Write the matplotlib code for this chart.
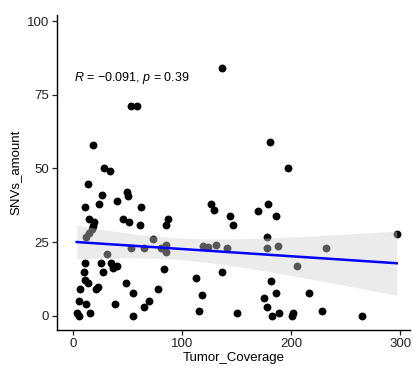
import numpy as np
import matplotlib
matplotlib.use("Agg")
import matplotlib.pyplot as plt

plt.rcParams["font.family"] = ["Liberation Sans", "DejaVu Sans"]
plt.rcParams["mathtext.fontset"] = "custom"
plt.rcParams["mathtext.it"] = "Liberation Sans:italic"
plt.rcParams["mathtext.rm"] = "Liberation Sans"

# values
tumor_coverage = [
    53.2, 58.7, 136.7, 18, 28, 34, 13.8, 27, 49.5, 50, 24, 40, 11.3, 62.7,
    15, 19.3, 18.6, 45.6, 51, 61.5, 86.9, 85.3, 127, 129, 144, 146.5,
    180.4, 197, 170, 178.6, 186, 177.7,
    12.1, 14.7, 17.5, 31.5, 53.6, 65.4, 73.3, 80.7, 85, 85, 119, 124, 131,
    141, 177.7, 188.4, 205.8, 232, 297,
    10.7, 10.4, 11.3, 14, 6.4, 5.5, 12.2, 3.4, 5.8, 15.6, 25.7, 27.8, 21.4,
    23.2, 35, 37, 40.6, 38.5, 49, 54.7, 55.3, 65, 69.4, 77.7, 83.8, 113,
    137, 118, 116, 150.7, 181.7, 186, 175, 178.3, 182.3, 189, 200.6, 202,
    216.8, 228.7, 264.8,
]
snvs_amount = [
    71.2, 71.2, 84, 58, 50, 49, 44.8, 41, 42, 40.7, 37.9, 39, 36.8, 36.8,
    32.8, 32, 30.5, 33, 31.7, 30.8, 33, 30.7, 37.9, 35.9, 33.9, 30.7,
    59, 50, 35.7, 38, 33.8, 26.9,
    26.8, 28.1, 29.5, 21, 23, 23, 26, 23, 24, 21.8, 23.8, 23.4, 24,
    23, 23, 23.8, 17, 23, 27.9,
    17.9, 14.9, 12, 11, 9, 4.9, 4, 1.1, 0, 1.1, 17.9, 14.9, 9,
    9.7, 17.9, 16.3, 17, 4, 11, 7.9, 0, 3, 4.9, 9, 15.8, 13,
    14.8, 7, 1.8, 0.9, 11.9, 7.9, 6, 3, 0, 1, 0, 0.9,
    7.9, 1.8, 0,
]
stat_label = r"$R$ = −0.091, $p$ = 0.39"

x = np.array(tumor_coverage)
y = np.array(snvs_amount)

# linear fit with 95% confidence band
n = len(x)
slope, intercept = np.polyfit(x, y, 1)
resid = y - (slope * x + intercept)
s = np.sqrt(np.sum(resid ** 2) / (n - 2))
xs = np.linspace(x.min(), x.max(), 80)
fit = slope * xs + intercept
se = s * np.sqrt(1 / n + (xs - x.mean()) ** 2 / np.sum((x - x.mean()) ** 2))
t_crit = 1.986

fig = plt.figure(figsize=(4.13, 3.69), dpi=100)
ax = fig.add_axes([0.138, 0.106, 0.855, 0.853])

ax.scatter(x, y, s=32, color="black", linewidths=0, zorder=2)
ax.fill_between(xs, fit - t_crit * se, fit + t_crit * se,
                color="#d1d1d1", alpha=0.42, linewidth=0, zorder=3)
ax.plot(xs, fit, color="#0000ff", lw=1.8, zorder=4)

ax.text(0.8, 80.7, stat_label, fontsize=9, va="center", ha="left")

ax.set_xlim(-14.7, 309.2)
ax.set_ylim(-4.75, 102)
ax.set_xticks([0, 100, 200, 300])
ax.set_yticks([0, 25, 50, 75, 100])

for side in ["top", "right"]:
    ax.spines[side].set_visible(False)
for side in ["left", "bottom"]:
    ax.spines[side].set_linewidth(1.0)
    ax.spines[side].set_color("black")

ax.tick_params(labelsize=9.5, colors="#222222", length=3.5, width=0.9, pad=2)
ax.set_xlabel("Tumor_Coverage", fontsize=9.5, labelpad=2)
ax.set_ylabel("SNVs_amount", fontsize=9.5, labelpad=4)

fig.savefig("out.png", dpi=100)
